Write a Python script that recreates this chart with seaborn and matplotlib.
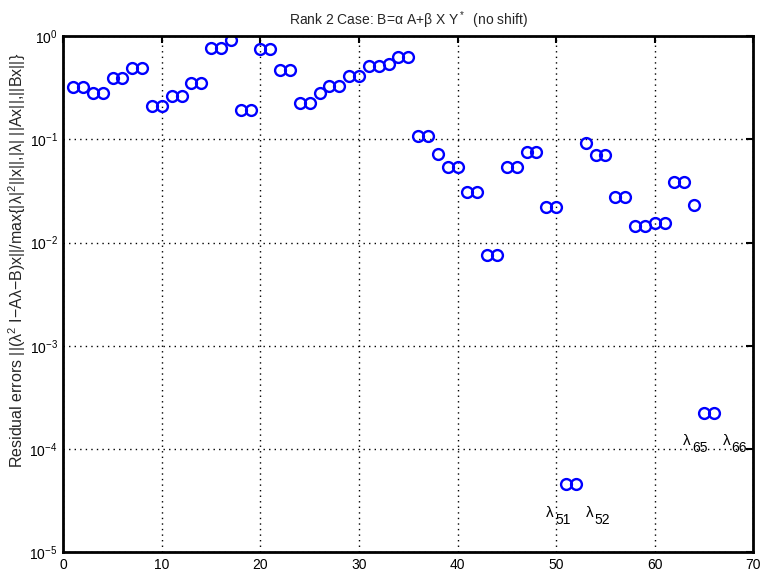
import matplotlib
matplotlib.use("Agg")
import matplotlib.pyplot as plt
import matplotlib.ticker as mticker
import seaborn as sns
import numpy as np
import pandas as pd

# ---- data ----
index = list(range(1, 67))
residual = [
    0.323, 0.323, 0.279, 0.279, 0.395, 0.395, 0.49, 0.49, 0.21, 0.21,
    0.262, 0.262, 0.353, 0.353, 0.76, 0.76, 0.915, 0.191, 0.191, 0.743,
    0.743, 0.469, 0.469, 0.226, 0.226, 0.279, 0.328, 0.328, 0.407, 0.407,
    0.509, 0.509, 0.536, 0.63, 0.63, 0.1076, 0.1076, 0.072, 0.054, 0.054,
    0.0307, 0.0307, 0.0076, 0.0076, 0.054, 0.054, 0.0748, 0.0748, 0.0223, 0.0223,
    4.58e-5, 4.58e-5, 0.092, 0.070, 0.070, 0.0274, 0.0274, 0.0144, 0.0144, 0.0154,
    0.0154, 0.0386, 0.0386, 0.023, 2.22e-4, 2.22e-4,
]
annot_sub = ["51", "52", "65", "66"]
annot_x = [49.0, 53.0, 62.9, 66.9]
annot_y = [2.4e-5, 2.4e-5, 1.2e-4, 1.2e-4]
x_ticks = [0, 10, 20, 30, 40, 50, 60, 70]

sns.set_style("white")
plt.rcParams["font.family"] = ["Liberation Sans", "DejaVu Sans"]
plt.rcParams["mathtext.fontset"] = "custom"
plt.rcParams["mathtext.rm"] = "Liberation Sans"
plt.rcParams["mathtext.it"] = "Liberation Sans:italic"
plt.rcParams["mathtext.sf"] = "Liberation Sans"

df = pd.DataFrame({"idx": index, "res": residual})

fig = plt.figure(figsize=(7.62, 5.74), dpi=100)
ax = fig.add_axes([0.083, 0.038, 0.9055, 0.899])
ax.set_yscale("log")

sns.lineplot(data=df, x="idx", y="res", ax=ax, estimator=None,
             linestyle="none", marker="o", markersize=7.8,
             markerfacecolor="none", markeredgecolor="#0000ff",
             markeredgewidth=1.7, color="#0000ff")

for sub, xx, yy in zip(annot_sub, annot_x, annot_y):
    ax.text(xx, yy, "λ", fontsize=11, color="black", ha="left", va="center")
    ax.annotate(sub, xy=(xx, yy), xytext=(6.5, -5), textcoords="offset points",
                fontsize=10, color="black", ha="left", va="center")

ax.set_xlim(0, 70)
ax.set_ylim(1e-5, 1e0)
ax.set_xticks(x_ticks)
ax.yaxis.set_major_locator(mticker.LogLocator(base=10, numticks=10))
ax.yaxis.set_minor_locator(mticker.NullLocator())
ax.yaxis.set_major_formatter(mticker.LogFormatterSciNotation())

ax.grid(True, which="major", linestyle=(0, (1, 3)), color="black", linewidth=1.0)
ax.tick_params(direction="in", length=5, width=1.5, top=True, right=True,
               labelsize=10, colors="black", pad=4)
for s in ax.spines.values():
    s.set_linewidth(2.0)
    s.set_color("black")

ax.set_xlabel("")
ax.set_ylabel("Residual errors ||(λ$^2$ I−Aλ−B)x||/max{|λ|$^2$||x||,|λ| ||Ax||,||Bx||}",
              fontsize=11.5)
ax.yaxis.set_label_coords(-0.051, 0.566)
ax.set_title("Rank 2 Case: B=α A+β X Y$^*$  (no shift)", fontsize=10, pad=8)

fig.savefig("out.png", dpi=100)
